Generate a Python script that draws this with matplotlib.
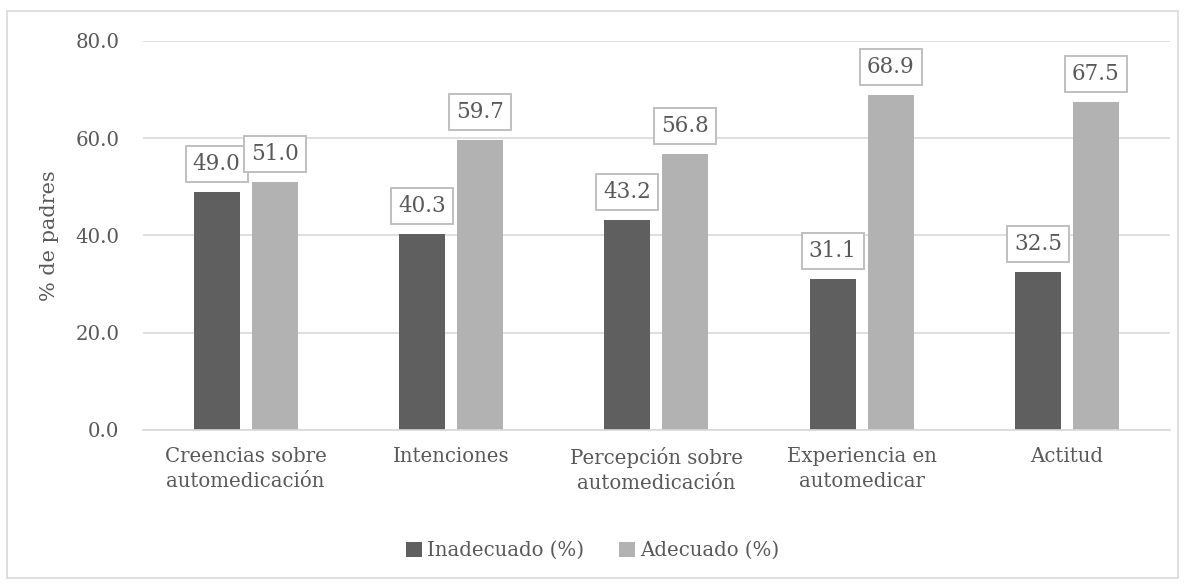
import numpy as np
import matplotlib.pyplot as plt
from matplotlib.patches import Rectangle
from matplotlib.ticker import FormatStrFormatter

categories = ["Creencias sobre\nautomedicación", "Intenciones",
              "Percepción sobre\nautomedicación", "Experiencia en\nautomedicar", "Actitud"]
inadecuado = [49.0, 40.3, 43.2, 31.1, 32.5]
adecuado = [51.0, 59.7, 56.8, 68.9, 67.5]
series_names = ["Inadecuado (%)", "Adecuado (%)"]

text_color = "#595959"
grid_color = "#d9d9d9"
colors = ["#5f5f5f", "#b2b2b2"]

plt.rcParams['font.family'] = ['DejaVu Serif']

fig = plt.figure(figsize=(11.85, 5.84), dpi=100)
ax = fig.add_axes([0.1207, 0.2637, 0.8663, 0.6661])

# outer chart frame
fig.patches.append(Rectangle((0.006, 0.01), 0.988, 0.972, transform=fig.transFigure,
                             fill=False, edgecolor=grid_color, linewidth=1.2))

x = np.arange(len(categories))
width = 0.224
gap = 0.058
bars1 = ax.bar(x - (width + gap) / 2, inadecuado, width, color=colors[0], label=series_names[0], zorder=3)
bars2 = ax.bar(x + (width + gap) / 2, adecuado, width, color=colors[1], label=series_names[1], zorder=3)

# boxed value labels
for bars in (bars1, bars2):
    for b in bars:
        h = b.get_height()
        ax.annotate(f"{h:.1f}", xy=(b.get_x() + b.get_width() / 2, h),
                    xytext=(0, 17), textcoords='offset pixels',
                    ha='center', va='bottom', fontsize=15.5, color=text_color, zorder=5,
                    bbox=dict(boxstyle='square,pad=0.33', facecolor='white',
                              edgecolor='#bfbfbf', linewidth=1.4))

ax.set_xlim(-0.5, len(categories) - 0.5)
ax.set_ylim(0, 80)
ax.set_yticks([0, 20, 40, 60, 80])
ax.yaxis.set_major_formatter(FormatStrFormatter('%.1f'))
ax.set_xticks(x)
ax.set_xticklabels(categories, fontsize=14.2, color=text_color, linespacing=1.45)
ax.tick_params(axis='y', labelsize=14.2, labelcolor=text_color, length=0, pad=17)
ax.tick_params(axis='x', length=0, pad=12)
ax.grid(axis='y', color=grid_color, linewidth=1.2, zorder=0)
for s in ['top', 'right', 'left']:
    ax.spines[s].set_visible(False)
ax.spines['bottom'].set_color(grid_color)
ax.spines['bottom'].set_linewidth(1.2)
ax.spines['bottom'].set_zorder(4)

ax.set_ylabel("% de padres", fontsize=15, color=text_color, labelpad=12)

fig.legend(handles=[bars1, bars2], labels=series_names, loc='center',
           bbox_to_anchor=(0.5, 0.057), ncol=2, frameon=False, fontsize=14.2,
           labelcolor=text_color, handlelength=0.8, handleheight=0.8,
           handletextpad=0.25, columnspacing=1.8)

fig.savefig("out.png", dpi=100)
